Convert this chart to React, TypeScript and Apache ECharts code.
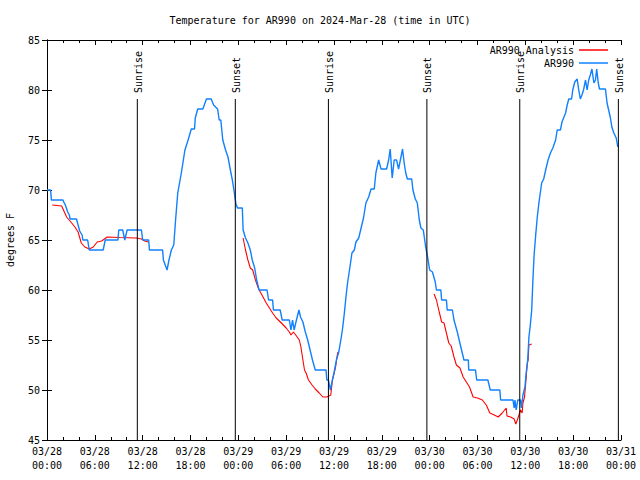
import React, { useEffect, useRef } from "react";
import * as echarts from "echarts";

// Hours since 2024-03-28 00:00 UTC, temperature (deg F)
const obsSeries: [number, number][] = [
  [0, 70], [0.45, 70], [0.55, 69], [2.0, 69], [2.1, 68.8], [2.3, 68.5], [2.6, 67.8], [2.8, 67.5], [2.9, 67.1], [3.7, 67.1],
  [3.9, 66.5], [4.1, 65.9], [4.4, 65.5], [4.5, 65], [5.1, 65], [5.3, 64], [7.05, 64], [7.3, 65], [8.9, 65], [9.0, 66],
  [9.5, 66], [9.75, 65], [10.05, 66], [11.85, 66], [12.0, 65], [12.75, 65], [12.85, 64], [14.5, 64], [14.6, 63], [15.06, 62],
  [15.3, 63], [15.6, 64], [15.9, 64.5], [16.1, 66.7], [16.4, 69.7], [16.85, 71.7], [17.3, 74], [17.7, 75], [18.1, 76.1], [18.5, 76.1],
  [18.6, 77.2], [18.9, 78.1], [19.55, 78.1], [20.0, 79.1], [20.6, 79.1], [20.9, 78.5], [21.4, 78.1], [21.6, 77], [21.8, 77], [22.05, 75],
  [22.4, 74], [22.7, 73.3], [23.0, 72], [23.25, 71], [23.5, 69.7], [23.7, 68.6], [23.9, 68.2], [24.5, 68.2], [24.6, 66], [24.9, 65.2],
  [25.2, 64.7], [25.5, 64], [25.75, 63], [26.05, 62.2], [26.3, 61], [26.6, 60], [27.6, 60], [27.8, 59], [28.3, 59], [28.4, 58],
  [29.25, 58], [29.5, 57], [30.4, 57], [30.6, 56], [30.8, 57], [31.0, 56], [31.2, 56.7], [31.6, 58], [31.8, 57.3], [32.1, 56.8],
  [32.4, 55.8], [32.7, 55], [33.0, 54], [33.3, 53], [33.65, 52], [35.0, 52], [35.1, 51], [35.3, 51], [35.55, 50], [35.8, 51],
  [36.0, 51.7], [36.3, 53], [36.6, 53.8], [36.9, 55.2], [37.1, 56.3], [37.3, 57.7], [37.5, 59.3], [37.7, 60.7], [38.0, 62.3], [38.25, 63.7],
  [38.55, 64], [38.75, 64.8], [39.1, 65.2], [39.4, 66.2], [39.7, 67.2], [40.0, 68.7], [40.35, 69.3], [40.65, 70.1], [41.05, 70.1], [41.25, 71.7],
  [41.6, 73], [41.9, 72.1], [42.6, 72.1], [42.85, 73], [43.05, 74.1], [43.3, 71.2], [43.55, 73], [43.85, 73], [44.1, 72.1], [44.4, 73.3],
  [44.6, 74.1], [44.8, 72.7], [45.0, 71.7], [45.2, 71.1], [45.75, 71.1], [45.9, 70], [46.2, 69.1], [46.45, 68.7], [46.7, 67], [46.9, 66.2],
  [47.2, 66], [47.5, 64.3], [47.7, 63.5], [48.0, 62], [48.35, 61.8], [48.7, 60.8], [48.85, 60], [49.4, 60], [49.5, 59], [50.1, 59],
  [50.2, 58], [50.85, 58], [51.05, 57], [51.5, 55.7], [51.7, 55], [52.0, 54], [52.3, 53], [52.85, 53], [52.9, 52], [53.75, 52],
  [53.9, 51], [55.3, 51], [55.6, 50], [56.8, 50], [56.9, 49], [58.45, 49], [58.6, 48.2], [58.7, 49], [58.85, 48], [59.05, 49],
  [59.4, 49], [59.5, 48.2], [59.7, 49.5], [59.95, 50.3], [60.1, 51.7], [60.3, 53], [60.45, 55.3], [60.6, 56.3], [60.8, 58], [60.95, 61],
  [61.1, 63.5], [61.3, 65.5], [61.5, 67.3], [61.7, 68.7], [62.05, 70.7], [62.3, 71.1], [62.55, 72], [62.85, 73], [63.15, 73.7], [63.45, 74.2],
  [63.8, 75], [64.0, 76], [64.4, 76], [64.6, 76.8], [64.8, 77.2], [65.05, 77.7], [65.25, 78.5], [65.45, 79.1], [65.8, 79.1], [65.95, 80],
  [66.2, 80.8], [66.5, 81.1], [66.7, 80], [66.9, 79.1], [67.1, 79.5], [67.3, 80], [67.55, 81], [67.75, 80], [67.95, 81], [68.15, 81.5],
  [68.35, 82.1], [68.6, 80.7], [68.8, 81], [68.95, 82.1], [69.15, 80.7], [69.3, 80.1], [70.05, 80.1], [70.25, 78.7], [70.45, 78], [70.65, 77.3],
  [70.85, 76.3], [71.1, 75.7], [71.4, 75.2], [71.6, 74.3],
];

const analysisSeg1: [number, number][] = [
  [0.66, 68.5], [1.84, 68.4], [2.46, 67.3], [3.1, 66.7], [3.5, 66.3], [3.9, 65.8], [4.3, 64.7], [4.75, 64.3], [5.3, 64.1], [5.8, 64.3],
  [6.3, 64.8], [6.85, 64.9], [7.55, 65.3], [9.1, 65.25], [11.2, 65.2], [11.85, 65.1], [12.25, 64.9], [12.7, 64.8],
];
const analysisSeg2: [number, number][] = [
  [24.6, 65.2], [24.9, 64], [25.2, 63], [25.5, 62.2], [25.8, 62], [26.15, 61], [26.45, 60.3], [26.75, 59.8], [27.1, 59.3], [27.5, 58.7],
  [27.9, 58.2], [28.3, 57.7], [28.75, 57.2], [29.4, 56.7], [30.0, 56.2], [30.4, 55.8], [30.6, 55.5], [30.9, 55.8], [31.2, 55.5], [31.65, 55],
  [31.85, 54.3], [32.1, 53], [32.3, 52], [32.5, 51.7], [32.8, 51], [33.25, 50.5], [33.65, 50.1], [34.15, 49.7], [34.6, 49.3], [35.1, 49.3],
  [35.6, 49.5], [35.8, 51], [36.2, 52.3], [36.45, 53.7], [36.6, 53.8],
];
const analysisSeg3: [number, number][] = [
  [48.55, 59.6], [48.85, 59], [49.2, 57.8], [49.5, 56.8], [49.8, 56.7], [50.1, 55.7], [50.4, 54.7], [50.7, 54.4], [51.05, 53.3], [51.35, 52.5],
  [51.8, 52.2], [52.2, 51.3], [52.6, 50.8], [53.0, 50.3], [53.45, 49.3], [54.0, 49.2], [54.6, 49], [55.1, 48.5], [55.55, 47.7], [56.1, 47.5],
  [56.6, 47.3], [57.1, 47.7], [57.6, 48.2], [57.7, 47.4], [58.15, 47.3], [58.6, 47.1], [58.8, 46.6], [59.0, 47], [59.2, 47.5], [59.4, 48],
  [59.6, 47.7], [59.7, 48.7], [59.9, 49.3], [60.05, 50.7], [60.25, 52.7], [60.35, 53], [60.45, 54.5], [60.8, 54.6],
];

const sunHours = [11.33, 23.62, 35.3, 47.65, 59.3, 71.67];
const sunLabels = ["Sunrise", "Sunset", "Sunrise", "Sunset", "Sunrise", "Sunset"];
const sunLineTop = 79.1;

const xTickLabels = [
  "03/28\n00:00", "03/28\n06:00", "03/28\n12:00", "03/28\n18:00",
  "03/29\n00:00", "03/29\n06:00", "03/29\n12:00", "03/29\n18:00",
  "03/30\n00:00", "03/30\n06:00", "03/30\n12:00", "03/30\n18:00",
  "03/31\n00:00",
];

const FONT = "DejaVu Sans Mono";
const BLUE = "#1080ff";
const RED = "#ff0000";

export default function App() {
  const ref = useRef<HTMLDivElement>(null);
  useEffect(() => {
    if (!ref.current) return;
    const chart = echarts.init(ref.current, null, { renderer: "svg" });
    const analysisData: any[] = [
      ...analysisSeg1, [13, "-"], ...analysisSeg2, [37, "-"], ...analysisSeg3,
    ];
    const axisCommon = {
      axisLine: { show: true, lineStyle: { color: "#000", width: 1 } },
      splitLine: { show: false },
    };
    chart.setOption({
      animation: false,
      title: {
        text: "Temperature for AR990 on 2024-Mar-28 (time in UTC)",
        left: "center",
        top: 10,
        textStyle: { fontFamily: FONT, fontSize: 10, fontWeight: "normal", color: "#000" },
      },
      legend: {
        data: ["AR990 Analysis", "AR990"],
        orient: "vertical",
        right: 27,
        top: 39,
        align: "right",
        icon: "rect",
        itemWidth: 29,
        itemHeight: 1.5,
        itemGap: 1,
        textStyle: { fontFamily: FONT, fontSize: 10, color: "#000", lineHeight: 12 },
        selectedMode: false,
      },
      grid: { left: 47, right: 19, top: 40, bottom: 40, containLabel: false, outerBoundsMode: "none" },
      xAxis: [
        {
          type: "value",
          min: 0,
          max: 72,
          interval: 6,
          ...axisCommon,
          axisTick: { show: true, inside: true, length: 5, lineStyle: { color: "#000" } },
          minorTick: { show: true, splitNumber: 3, length: 3, lineStyle: { color: "#000" } },
          axisLabel: {
            fontFamily: FONT,
            fontSize: 10,
            color: "#000",
            lineHeight: 14,
            margin: 4,
            showMinLabel: true,
            showMaxLabel: true,
            formatter: (v: number) => xTickLabels[Math.round(v / 6)] ?? "",
          },
        },
        {
          type: "value",
          position: "top",
          min: 0,
          max: 72,
          interval: 6,
          ...axisCommon,
          axisTick: { show: true, inside: true, length: 5, lineStyle: { color: "#000" } },
          minorTick: { show: true, splitNumber: 3, length: 3, lineStyle: { color: "#000" } },
          axisLabel: { show: false },
        },
      ],
      yAxis: [
        {
          type: "value",
          min: 45,
          max: 85,
          interval: 5,
          ...axisCommon,
          name: "degrees F",
          nameLocation: "middle",
          nameGap: 32,
          nameTextStyle: { fontFamily: FONT, fontSize: 10, color: "#000" },
          axisTick: { show: true, inside: true, length: 5, lineStyle: { color: "#000" } },
          axisLabel: { fontFamily: FONT, fontSize: 10, color: "#000", margin: 7 },
        },
        {
          type: "value",
          position: "right",
          min: 45,
          max: 85,
          interval: 5,
          ...axisCommon,
          axisTick: { show: true, inside: true, length: 5, lineStyle: { color: "#000" } },
          axisLabel: { show: false },
        },
      ],
      series: [
        {
          name: "AR990 Analysis",
          type: "line",
          data: analysisData,
          showSymbol: false,
          symbol: "none",
          connectNulls: false,
          color: RED,
          lineStyle: { color: RED, width: 1.1 },
          z: 3,
        },
        {
          name: "AR990",
          type: "line",
          data: obsSeries,
          showSymbol: false,
          symbol: "none",
          color: BLUE,
          lineStyle: { color: BLUE, width: 1.4 },
          z: 4,
        },
        {
          name: "sun",
          type: "custom",
          data: sunHours.map((h) => [h, sunLineTop]),
          z: 5,
          renderItem: (params: any, api: any) => {
            const h = api.value(0);
            const top = api.coord([h, sunLineTop]);
            const bot = api.coord([h, 45]);
            return {
              type: "group",
              children: [
                {
                  type: "line",
                  shape: { x1: top[0], y1: top[1], x2: bot[0], y2: bot[1] },
                  style: { stroke: "#000", lineWidth: 1 },
                },
                {
                  type: "text",
                  x: top[0] + 1,
                  y: top[1] - 6,
                  rotation: Math.PI / 2,
                  style: {
                    text: sunLabels[params.dataIndex],
                    fontFamily: FONT,
                    fontSize: 10,
                    fill: "#000",
                    align: "left",
                    verticalAlign: "middle",
                  },
                },
              ],
            };
          },
        },
      ],
    });
    return () => chart.dispose();
  }, []);
  return (
    <div
      ref={ref}
      style={{ position: "absolute", left: 0, top: 0, width: 640, height: 480, background: "#fff" }}
    />
  );
}
